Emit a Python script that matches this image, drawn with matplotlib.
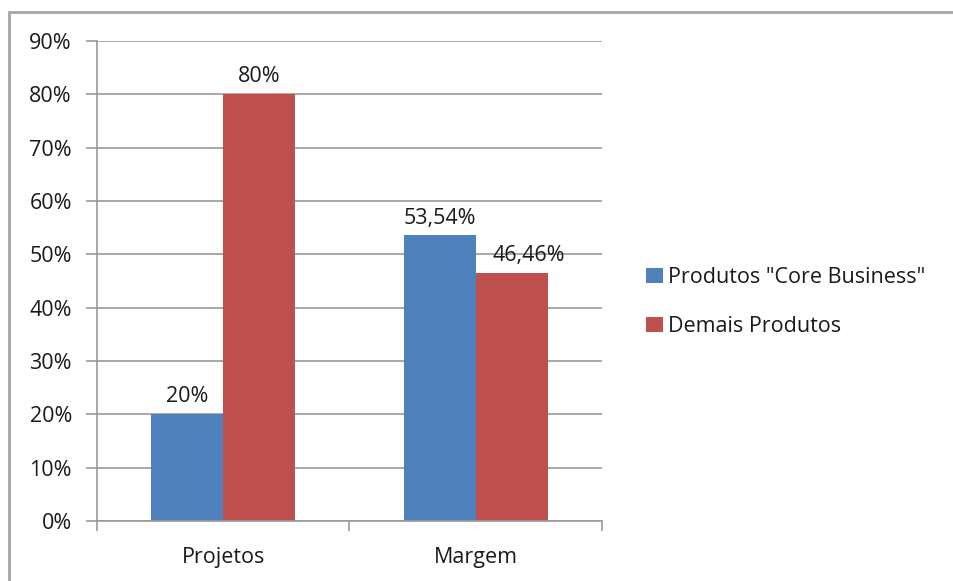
import matplotlib.pyplot as plt
import numpy as np
from matplotlib.patches import Rectangle

# data
categorias = ["Projetos", "Margem"]
core = [20.0, 53.54]
demais = [80.0, 46.46]
rotulos_core = ["20%", "53,54%"]
rotulos_demais = ["80%", "46,46%"]
series = ['Produtos "Core Business"', "Demais Produtos"]

azul = '#4F81BD'
vermelho = '#C0504D'
cinza = '#9A9A9A'
fs = 15.5

plt.rcParams['font.family'] = ['Open Sans', 'DejaVu Sans']
plt.rcParams['text.color'] = '#1a1a1a'

fig = plt.figure(figsize=(9.54, 5.81), dpi=100)
ax = fig.add_axes([97/954, 60/581, 505/954, 480/581])

ind = np.arange(len(categorias))
width = 0.286

b1 = ax.bar(ind - width/2, core, width, color=azul, label=series[0])
b2 = ax.bar(ind + width/2, demais, width, color=vermelho, label=series[1])
ax.bar_label(b1, labels=rotulos_core, padding=5, fontsize=fs, color='#1a1a1a')
lbl2 = ax.bar_label(b2, labels=rotulos_demais, padding=5, fontsize=fs, color='#1a1a1a')
# excel nudged the 46,46% label right to avoid the neighbour label
lbl2[1].xyann = (12, 5)

ax.set_xlim(-0.5, 1.5)
ax.set_ylim(0, 90)
ax.set_yticks(np.arange(0, 91, 10))
ax.set_yticklabels([f"{v}%" for v in range(0, 91, 10)])
ax.yaxis.grid(True, color=cinza, linewidth=1.2)
ax.set_axisbelow(True)

# category labels at centers, tick marks at boundaries
ax.set_xticks([-0.5, 0.5, 1.5])
ax.set_xticklabels([])
ax.set_xticks(ind, minor=True)
ax.set_xticklabels(categorias, minor=True)
ax.tick_params(axis='x', which='major', direction='out', length=7, color=cinza, width=1.2)
ax.tick_params(axis='x', which='minor', length=0, pad=19, labelsize=fs, labelcolor='#1a1a1a')
ax.tick_params(axis='y', direction='out', length=8, color=cinza, width=1.2,
               labelsize=fs, pad=10, labelcolor='#1a1a1a')

for s in ['top', 'right']:
    ax.spines[s].set_visible(False)
for s in ['left', 'bottom']:
    ax.spines[s].set_color(cinza)
    ax.spines[s].set_linewidth(1.2)

ax.legend(loc='center left', bbox_to_anchor=(627/954, 279/581),
          bbox_transform=fig.transFigure, frameon=False, fontsize=fs,
          handlelength=0.75, handleheight=0.75, handletextpad=0.25, labelspacing=1.3)

# chart border
fig.patches.append(Rectangle((9/954, -0.1), 1.0, 1.1 - 12/581,
                             transform=fig.transFigure, fill=False,
                             edgecolor='#A6A6A6', linewidth=2))

fig.savefig('out.png', dpi=100)
